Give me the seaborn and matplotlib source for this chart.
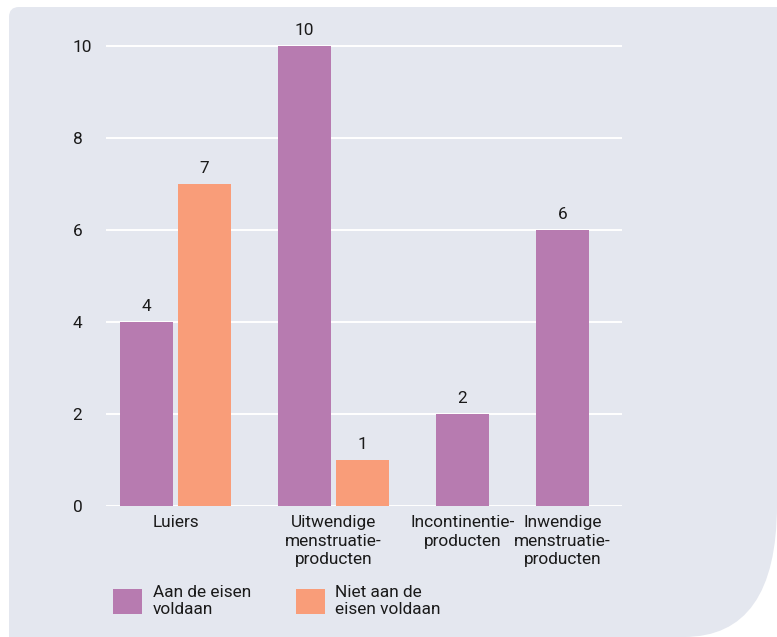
import numpy as np
import pandas as pd
import matplotlib
matplotlib.use("Agg")
import matplotlib.pyplot as plt
import seaborn as sns
from matplotlib.path import Path
from matplotlib.patches import PathPatch, Patch

# ---- data ----
categories = ["Luiers", "Uitwendige\nmenstruatie-\nproducten",
              "Incontinentie-\nproducten", "Inwendige\nmenstruatie-\nproducten"]
aan_de_eisen = [4, 10, 2, 6]
niet_aan_de_eisen = [7, 1, 0, 0]
series_names = ["Aan de eisen\nvoldaan", "Niet aan de\neisen voldaan"]
y_ticks = [0, 2, 4, 6, 8, 10]

# ---- style ----
PURPLE = "#b77bb0"
SALMON = "#f99d79"
CARD = "#e4e7ef"
TEXT = "#1a1a1a"

sns.set_style("white")
plt.rcParams["font.family"] = ["Roboto", "DejaVu Sans"]
plt.rcParams["text.color"] = TEXT
FS = 12.4

W, H = 777, 637
fig = plt.figure(figsize=(W / 100, H / 100), dpi=100)
fig.patch.set_facecolor("white")

# background card (pixel coords, y down) -> figure fraction
def fx(px): return px / W
def fy(py): return 1 - py / H
verts = [(9, 17), (9, 7), (19, 7), (777, 7), (777, 505), (777, 637), (684, 637), (9, 637), (9, 17)]
codes = [Path.MOVETO, Path.CURVE3, Path.CURVE3, Path.LINETO, Path.LINETO,
         Path.CURVE3, Path.CURVE3, Path.LINETO, Path.CLOSEPOLY]
card = PathPatch(Path([(fx(x), fy(y)) for x, y in verts], codes),
                 transform=fig.transFigure, facecolor=CARD, edgecolor="none", zorder=-10)
fig.patches.append(card)

# ---- layout of bars (bar width = 1 unit) ----
PAIR_GAP = 5 / 53
GROUP_GAP = 47 / 53
rows, centers = [], []
cursor = 0.0
for i, cat in enumerate(categories):
    vals = [(series_names[0], aan_de_eisen[i]), (series_names[1], niet_aan_de_eisen[i])]
    vals = [(s, v) for s, v in vals if v > 0]
    start = cursor
    for j, (s, v) in enumerate(vals):
        if j > 0:
            cursor += PAIR_GAP
        rows.append(dict(pos=cursor + 0.5, value=v, series=s))
        cursor += 1.0
    centers.append((start + cursor) / 2)
    cursor += GROUP_GAP
df = pd.DataFrame(rows)

YMAX = 10.4
ax = fig.add_axes([fx(106), fy(506), 516 / W, YMAX * 46 / H])
ax.set_facecolor("none")

sns.barplot(data=df, x="pos", y="value", hue="series", hue_order=series_names,
            palette=[PURPLE, SALMON], native_scale=True, dodge=False,
            width=1 / (1 + PAIR_GAP), errorbar=None, legend=False,
            saturation=1, linewidth=0, edgecolor="none", ax=ax)

for cont in ax.containers:
    ax.bar_label(cont, labels=[f"{int(b.get_height())}" for b in cont],
                 padding=6, fontsize=FS, color=TEXT)

ax.set_ylim(0, YMAX)
ax.set_xlim(-14 / 53, (622 - 120) / 53)
ax.set_yticks(y_ticks)
ax.set_yticklabels([str(t) for t in y_ticks], fontsize=FS, color=TEXT)
for lab in ax.get_yticklabels():
    lab.set_ha("left")
ax.set_xticks(centers)
ax.set_xticklabels(categories, fontsize=FS, color=TEXT, linespacing=1.3)
ax.tick_params(axis="y", length=0, pad=24)
ax.tick_params(axis="x", length=0, pad=6.5)
ax.set_xlabel("")
ax.set_ylabel("")
ax.yaxis.grid(True, color="white", linewidth=1.4)
ax.xaxis.grid(False)
ax.set_axisbelow(True)
for sp in ax.spines.values():
    sp.set_visible(False)

handles = [Patch(facecolor=PURPLE, edgecolor="none"), Patch(facecolor=SALMON, edgecolor="none")]
leg = fig.legend(handles=handles, labels=series_names, loc="upper left",
                 bbox_to_anchor=(fx(113), fy(585)), ncol=2, frameon=False,
                 fontsize=FS, handlelength=1.7, handleheight=1.8, handletextpad=0.6,
                 columnspacing=2.6, borderpad=0, borderaxespad=0, labelspacing=0.3)
for t in leg.get_texts():
    t.set_linespacing(1.2)

fig.savefig("out.png", dpi=100, facecolor=fig.get_facecolor())
